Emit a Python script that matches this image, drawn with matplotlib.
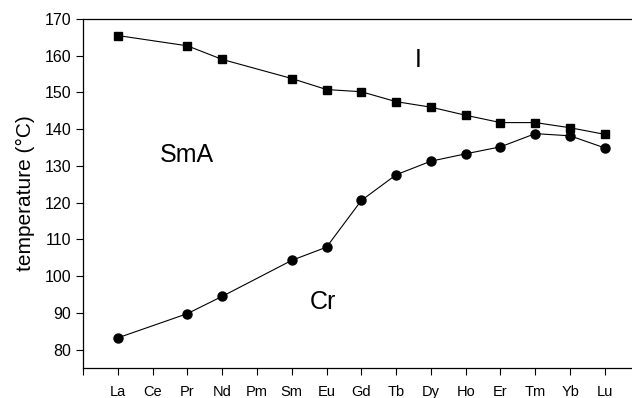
import matplotlib
matplotlib.use('Agg')
import matplotlib.pyplot as plt
import numpy as np

plt.rcParams['font.family'] = ['Liberation Sans', 'DejaVu Sans']

elements = ['La', 'Ce', 'Pr', 'Nd', 'Pm', 'Sm', 'Eu', 'Gd', 'Tb', 'Dy', 'Ho', 'Er', 'Tm', 'Yb', 'Lu']
measured = ['La', 'Pr', 'Nd', 'Sm', 'Eu', 'Gd', 'Tb', 'Dy', 'Ho', 'Er', 'Tm', 'Yb', 'Lu']
clearing = [165.5, 162.7, 159.0, 153.8, 150.8, 150.2, 147.5, 146.0, 143.8, 141.8, 141.8, 140.4, 138.6]
melting = [83.2, 89.8, 94.5, 104.3, 107.9, 120.6, 127.6, 131.3, 133.3, 135.2, 138.8, 138.2, 134.9]

xpos = [elements.index(e) for e in measured]

fig = plt.figure(figsize=(6.32, 3.98), dpi=100)
ax = fig.add_axes([83 / 632, 30 / 398, 1 - 83 / 632, 349 / 398])

ax.plot(xpos, clearing, color='black', lw=0.8, marker='s', ms=6)
ax.plot(xpos, melting, color='black', lw=0.8, marker='o', ms=6.5)

ax.set_xlim(-1, 14.78)
ax.set_ylim(75, 170)
ax.set_xticks(range(-1, 15))
ax.set_xticklabels([''] + elements)
ax.set_yticks(np.arange(80, 171, 10))
ax.tick_params(axis='both', direction='out', length=5, width=0.8, labelsize=10.5)
ax.tick_params(axis='y', labelsize=11.5)
ax.tick_params(axis='x', pad=7)
ax.spines['right'].set_visible(False)
for s in ['left', 'bottom', 'top']:
    ax.spines[s].set_linewidth(0.9)

ax.set_ylabel('temperature (°C)', fontsize=15, labelpad=7)

ax.text(8.63, 158.9, 'I', fontsize=18, ha='center', va='center')
ax.text(2.0, 133, 'SmA', fontsize=18, ha='center', va='center')
ax.text(5.9, 93, 'Cr', fontsize=18, ha='center', va='center')

plt.savefig('out.png', dpi=100)
